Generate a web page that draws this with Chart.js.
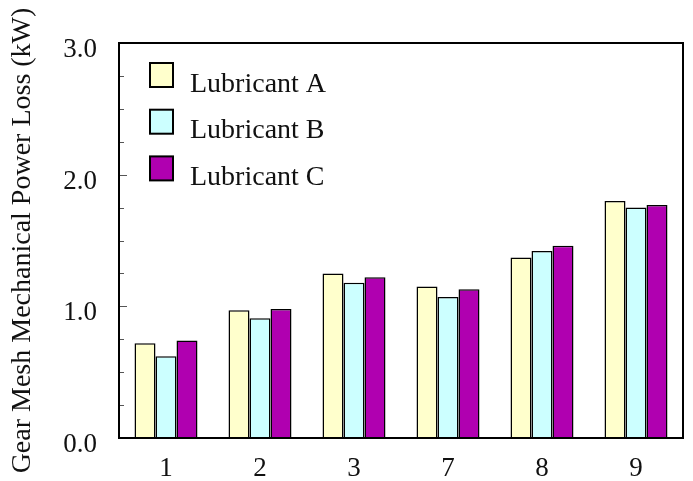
<!DOCTYPE html>
<html>
<head>
<meta charset="utf-8">
<script src="https://cdn.jsdelivr.net/npm/chart.js@4/dist/chart.umd.min.js"></script>
<style>
  html, body { margin: 0; padding: 0; background: #ffffff; }
  #wrap { width: 693px; height: 481px; position: relative; }
</style>
</head>
<body>
<div id="wrap"><canvas id="c" width="693" height="481"></canvas></div>
<script>
// ---- data ----
const categories = ['1', '2', '3', '7', '8', '9'];
const seriesNames = ['Lubricant A', 'Lubricant B', 'Lubricant C'];
const lubricantA = [0.72, 0.97, 1.25, 1.15, 1.37, 1.80];
const lubricantB = [0.62, 0.91, 1.18, 1.07, 1.42, 1.75];
const lubricantC = [0.74, 0.98, 1.22, 1.13, 1.46, 1.77];
const yTicks = [0, 1, 2, 3];
const yAxisTitle = 'Gear Mesh Mechanical Power Loss (kW)';

const colors = ['#FFFFCC', '#CCFFFF', '#B000B0'];
const FONT = 'Liberation Serif, Times New Roman, serif';

const frameAndTicks = {
  id: 'frameAndTicks',
  afterDatasetsDraw(chart) {
    const { ctx, chartArea: a, scales: { y } } = chart;
    ctx.save();
    // inward minor/major ticks on the left axis
    ctx.strokeStyle = '#555';
    ctx.lineWidth = 1;
    for (let v = 0; v <= 3.0001; v += 0.25) {
      const py = Math.round(y.getPixelForValue(v)) + 0.5;
      const len = Math.abs(v - Math.round(v)) < 1e-6 ? 8 : 5;
      ctx.beginPath();
      ctx.moveTo(a.left, py);
      ctx.lineTo(a.left + len, py);
      ctx.stroke();
    }
    // frame
    ctx.strokeStyle = '#000';
    ctx.lineWidth = 2;
    ctx.strokeRect(a.left, a.top, a.right - a.left, a.bottom - a.top);
    // legend inside plot
    chart.data.datasets.forEach((ds, i) => {
      const cx = a.left + 31;
      const cy = a.top + 32 + i * 46.7;
      ctx.fillStyle = ds.backgroundColor;
      ctx.fillRect(cx, cy - 12, 23, 24);
      ctx.strokeStyle = '#000';
      ctx.lineWidth = 2;
      ctx.strokeRect(cx, cy - 12, 23, 24);
      ctx.fillStyle = '#111';
      ctx.font = '28px ' + FONT;
      ctx.textAlign = 'left';
      ctx.textBaseline = 'alphabetic';
      ctx.fillText(ds.label, a.left + 71, cy + 16.7);
    });
    ctx.restore();
  }
};

new Chart(document.getElementById('c'), {
  type: 'bar',
  data: {
    labels: categories,
    datasets: [
      { label: seriesNames[0], data: lubricantA, backgroundColor: colors[0] },
      { label: seriesNames[1], data: lubricantB, backgroundColor: colors[1] },
      { label: seriesNames[2], data: lubricantC, backgroundColor: colors[2] }
    ].map(d => Object.assign(d, { borderColor: '#000', borderWidth: 1.5 }))
  },
  options: {
    responsive: false,
    animation: false,
    devicePixelRatio: 1,
    layout: { padding: { left: 0, top: 43, right: 10, bottom: 0 } },
    datasets: { bar: { barPercentage: 1.0, categoryPercentage: 0.67 } },
    plugins: { legend: { display: false }, tooltip: { enabled: false } },
    scales: {
      x: {
        grid: { display: false, drawTicks: false },
        border: { display: false },
        ticks: { color: '#111', font: { family: FONT, size: 27 }, padding: 15 },
        afterFit(s) { s.height = 43; }
      },
      y: {
        min: 0, max: 3,
        afterBuildTicks(s) { s.ticks = yTicks.map(v => ({ value: v })); },
        grid: { display: false, drawTicks: false },
        border: { display: false },
        ticks: {
          color: '#111', font: { family: FONT, size: 27 }, padding: 22, labelOffset: 7,
          callback: v => Number(v).toFixed(1)
        },
        title: {
          display: true, text: yAxisTitle, color: '#111',
          font: { family: FONT, size: 28 }, padding: { top: 6, bottom: 0 }
        },
        afterFit(s) { s.width = 119; }
      }
    }
  },
  plugins: [frameAndTicks]
});
</script>
</body>
</html>
